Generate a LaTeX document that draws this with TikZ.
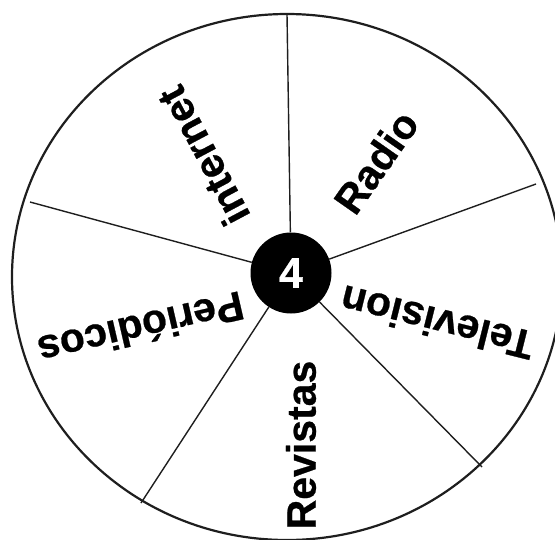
\documentclass[tikz,border=0pt]{standalone}
\usepackage{fontspec}
\setmainfont{Liberation Sans}[BoldFeatures={FakeBold=0.6}]
\definecolor{DG}{RGB}{30,30,30}

\begin{document}
\begin{tikzpicture}[x=1pt, y=-1pt,
  rim/.style={draw=DG, line width=2.2pt},
  spoke/.style={draw=DG, line width=1.4pt},
  hub/.style={circle, fill=black, minimum size=81pt, inner sep=0pt,
              text=white, font=\fontsize{43}{45}\selectfont\bfseries},
  lbl/.style={font=\fontsize{41}{44}\selectfont\bfseries, inner sep=0pt}
]
\clip (0,0) rectangle (555,539);

% Outer rim of the wheel
\draw[rim] (287,277) ellipse [x radius=275pt, y radius=263pt];

% Outer ends of the spokes
\coordinate (s1) at (287,14);
\coordinate (s2) at (536,184);
\coordinate (s3) at (482,467);
\coordinate (s4) at (141,503);
\coordinate (s5) at (30,202);

% Hub
\node[hub] (hub) at (291,273) {4};
\foreach \s in {s1,s2,s3,s4,s5}
  { \draw[spoke] (hub) -- (\s); }

% Sector labels
\node[lbl, rotate=55]  (radio)      at (376,162) {Radio};
\node[lbl, rotate=118] (internet)   at (203,156) {internet};
\node[lbl, rotate=193] (periodicos) at (141,329) {Periódicos};
\node[lbl, rotate=90]  (revistas)   at (301,445) {Revistas};
\node[lbl, rotate=166] (television) at (437,323) {Television};
\end{tikzpicture}
\end{document}
